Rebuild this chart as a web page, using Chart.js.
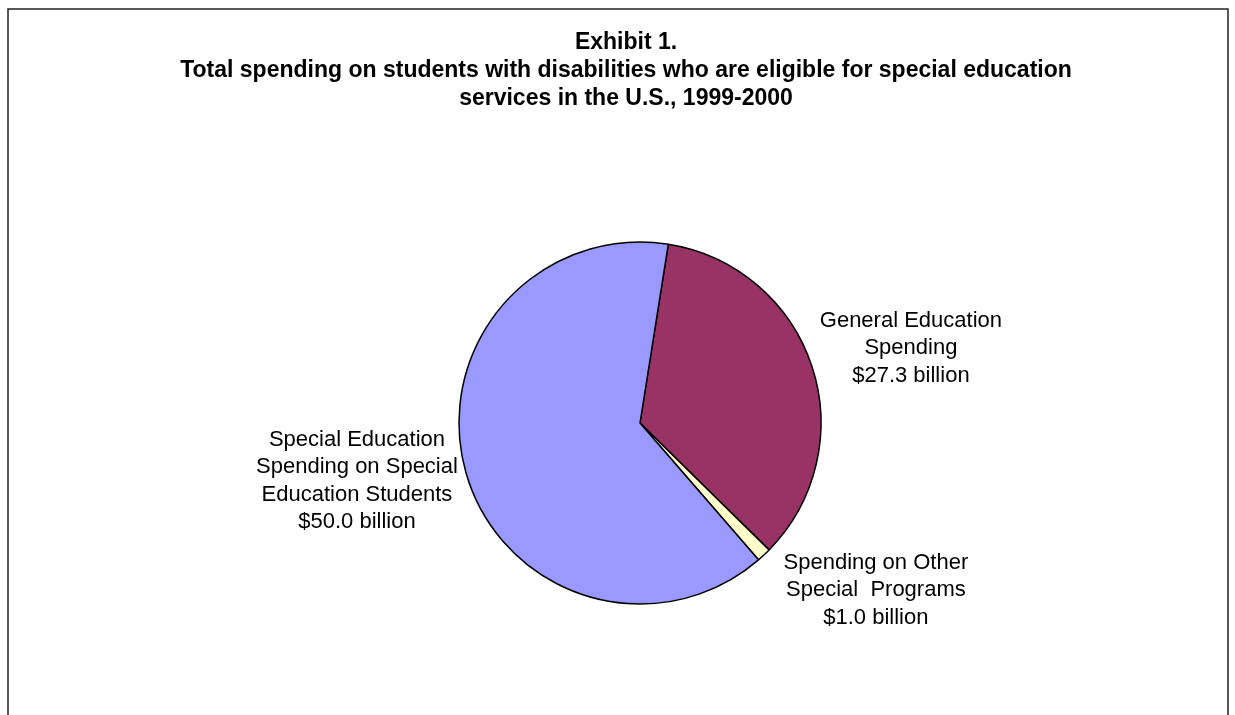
<!DOCTYPE html>
<html>
<head>
<meta charset="utf-8">
<script src="https://cdn.jsdelivr.net/npm/chart.js@4"></script>
<style>
  html, body { margin: 0; padding: 0; background: #fff; }
  canvas { display: block; }
</style>
</head>
<body>
<canvas id="pieChart" width="1235" height="715"></canvas>
<script>
const categories = ['General Education Spending', 'Spending on Other Special Programs', 'Special Education Spending on Special Education Students'];
const labelLines = [
  ['General Education', 'Spending'],
  ['Spending on Other', 'Special  Programs'],
  ['Special Education', 'Spending on Special', 'Education Students']
];
const spending = [27.3, 1.0, 50.0];
const titleLines = [
  'Exhibit 1.',
  'Total spending on students with disabilities who are eligible for special education',
  'services in the U.S., 1999-2000'
];

// label placement, offset from the middle of each slice's rim
const labelOffsets = [[99, -18], [112, 35], [-109, 8]];

const framePlugin = {
  id: 'frame',
  beforeDraw(chart) {
    const c = chart.ctx;
    c.save();
    c.fillStyle = '#fff';
    c.fillRect(0, 0, chart.width, chart.height);
    c.strokeStyle = '#222';
    c.lineWidth = 1.5;
    c.beginPath();
    c.moveTo(8, chart.height + 5);
    c.lineTo(8, 9);
    c.lineTo(1228, 9);
    c.lineTo(1228, chart.height + 5);
    c.stroke();

    c.fillStyle = '#000';
    c.font = 'bold 23px "Liberation Sans", Arial, sans-serif';
    c.textAlign = 'center';
    c.textBaseline = 'middle';
    titleLines.forEach((t, i) => c.fillText(t, 626, 43 + i * 28));
    c.restore();
  }
};

const sliceLabels = {
  id: 'sliceLabels',
  afterDatasetsDraw(chart) {
    const c = chart.ctx;
    const arcs = chart.getDatasetMeta(0).data;
    c.save();
    c.fillStyle = '#000';
    c.font = '22px "Liberation Sans", Arial, sans-serif';
    c.textAlign = 'center';
    c.textBaseline = 'middle';
    arcs.forEach((arc, i) => {
      const mid = (arc.startAngle + arc.endAngle) / 2;
      const px = arc.x + Math.cos(mid) * arc.outerRadius + labelOffsets[i][0];
      const py = arc.y + Math.sin(mid) * arc.outerRadius + labelOffsets[i][1];
      const lines = labelLines[i].concat('$' + spending[i].toFixed(1) + ' billion');
      const lh = 27.5;
      const top = py - (lines.length - 1) * lh / 2;
      lines.forEach((l, j) => c.fillText(l, px, top + j * lh));
    });
    c.restore();
  }
};

const ctx = document.getElementById('pieChart').getContext('2d');

const pieChart = new Chart(ctx, {
  type: 'pie',
  data: {
    labels: categories,
    datasets: [{
      data: spending,
      backgroundColor: ['#993366', '#FFFFCC', '#9999FF'],
      borderColor: '#000',
      borderWidth: 1.5,
      hoverOffset: 0,
      radius: 181
    }]
  },
  options: {
    responsive: false,
    animation: false,
    rotation: 9,
    layout: {
      padding: { left: 45, right: 0, top: 150, bottom: 19 }
    },
    plugins: {
      legend: { display: false },
      title: { display: false },
      tooltip: { enabled: false }
    }
  },
  plugins: [framePlugin, sliceLabels]
});
</script>
</body>
</html>
